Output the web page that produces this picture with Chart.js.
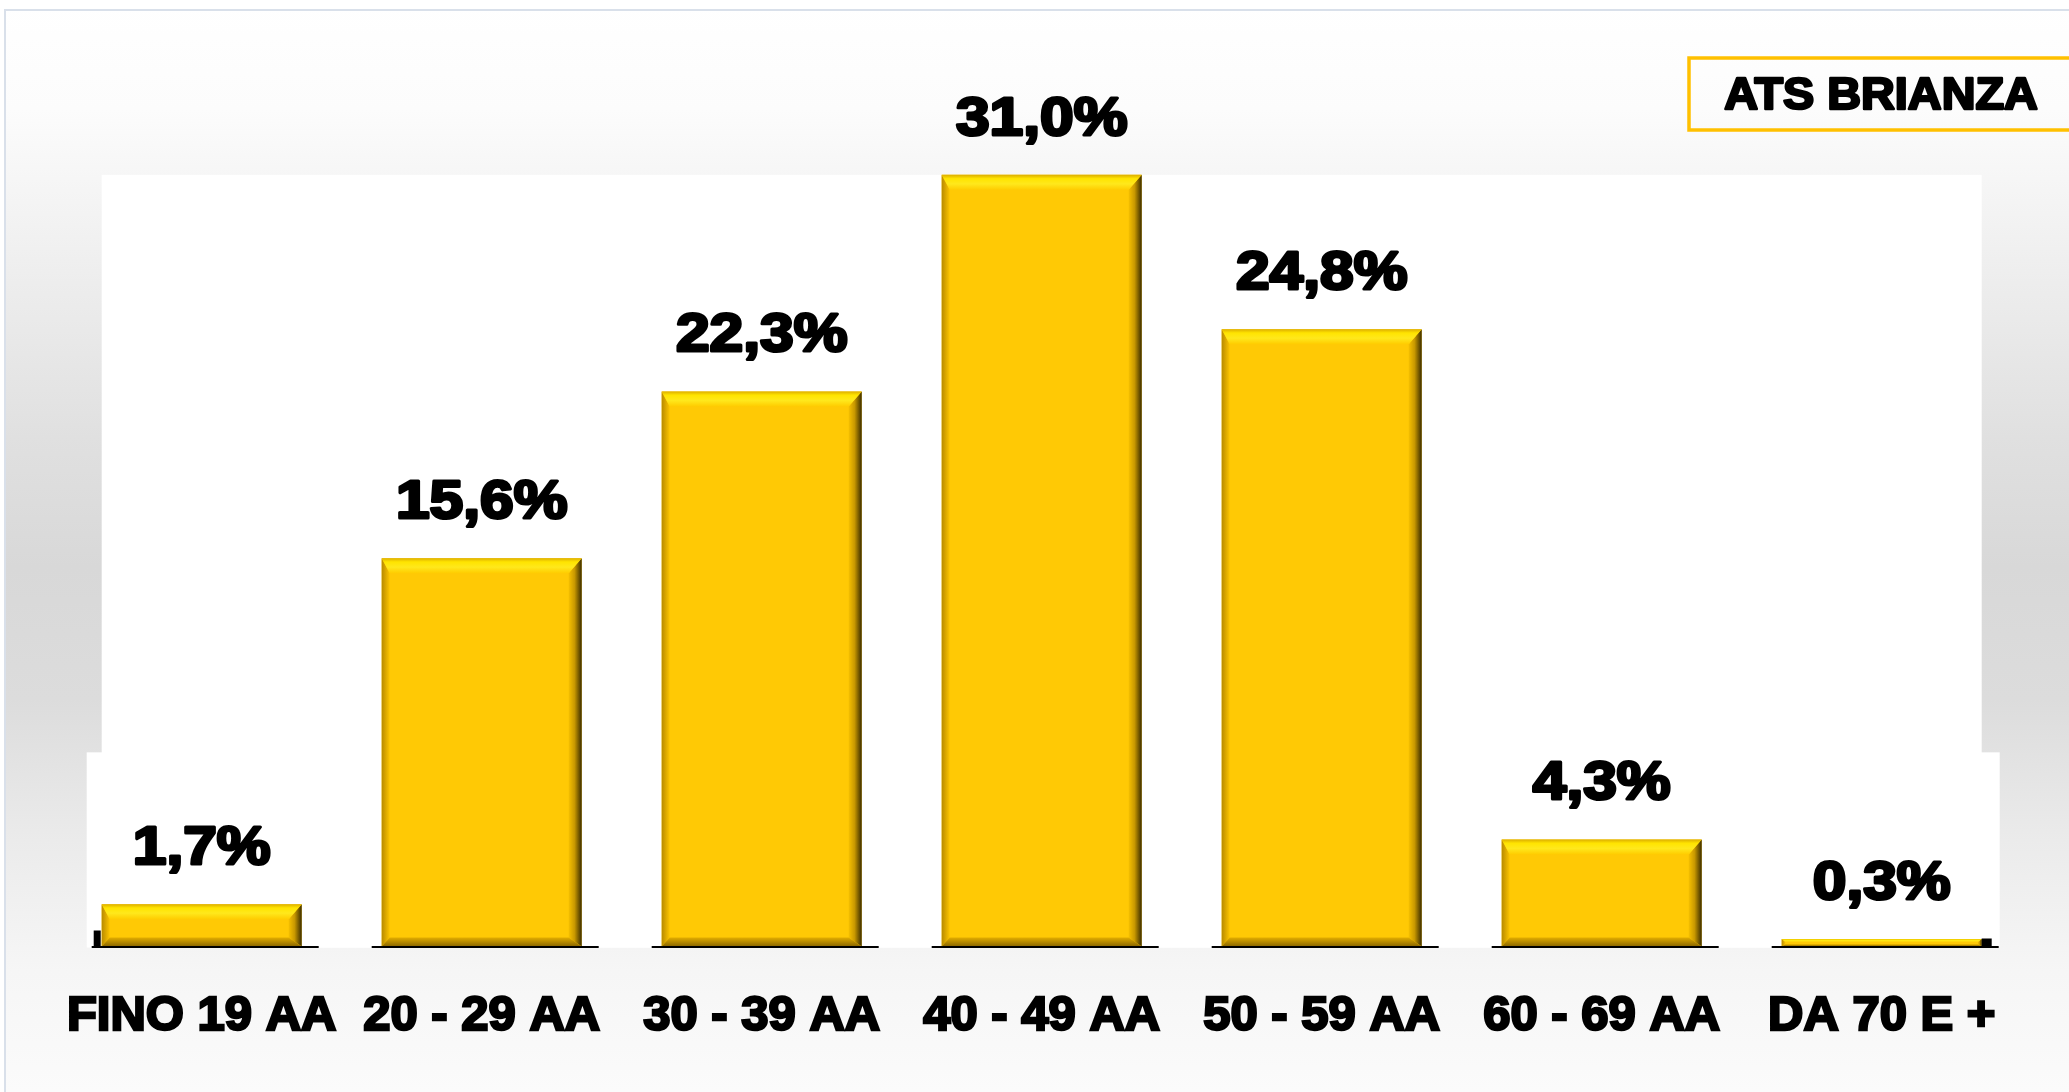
<!DOCTYPE html>
<html>
<head>
<meta charset="utf-8">
<script src="https://cdn.jsdelivr.net/npm/chart.js@4/dist/chart.umd.min.js"></script>
<style>
  html, body { margin: 0; padding: 0; background: #ffffff; }
  #wrap { width: 2069px; height: 1092px; }
</style>
</head>
<body>
<div id="wrap"><canvas id="c" width="2069" height="1092"></canvas></div>
<script>
// ---- DATA ----
const categories = ['FINO 19 AA', '20 - 29 AA', '30 - 39 AA', '40 - 49 AA', '50 - 59 AA', '60 - 69 AA', 'DA 70 E +'];
const values = [1.7, 15.6, 22.3, 31.0, 24.8, 4.3, 0.3];
const seriesName = 'ATS BRIANZA';
const yMin = 0;
const yMax = 34;

const FONT = "'Liberation Sans', Arial, sans-serif";

function fmt(v) { return v.toFixed(1).replace('.', ',') + '%'; }

// Background: page gradient, frame, white plot panels
const backgroundPlugin = {
  id: 'bgPanels',
  beforeDraw(chart) {
    const ctx = chart.ctx;
    const W = chart.width, H = chart.height;
    ctx.save();
    ctx.fillStyle = '#ffffff';
    ctx.fillRect(0, 0, W, H);
    const g = ctx.createLinearGradient(0, 0, 0, H);
    g.addColorStop(0.00, '#ffffff');
    g.addColorStop(0.10, '#fcfcfc');
    g.addColorStop(0.27, '#ececec');
    g.addColorStop(0.40, '#e0e0e0');
    g.addColorStop(0.52, '#d8d8d8');
    g.addColorStop(0.64, '#dcdcdc');
    g.addColorStop(0.77, '#ebebeb');
    g.addColorStop(0.89, '#f6f6f6');
    g.addColorStop(1.00, '#fbfbfb');
    ctx.fillStyle = g;
    ctx.fillRect(4, 9, W - 4, H - 9);
    // frame
    ctx.strokeStyle = '#d9e0ea';
    ctx.lineWidth = 2;
    ctx.beginPath();
    ctx.moveTo(5, H);
    ctx.lineTo(5, 10);
    ctx.lineTo(W, 10);
    ctx.stroke();

    // white plot panels derived from bars
    const meta = chart.getDatasetMeta(0);
    const ys = chart.scales.y;
    const first = meta.data[0], last = meta.data[meta.data.length - 1];
    if (first && last) {
      const base = ys.getPixelForValue(0);
      const topMax = ys.getPixelForValue(Math.max(...values));
      const l = first.x - first.width / 2;
      const r = last.x + last.width / 2;
      ctx.fillStyle = '#ffffff';
      ctx.fillRect(l, topMax, r - l, base - topMax + 1);
      const lowTop = ys.getPixelForValue(7.8);
      ctx.fillRect(l - 15, lowTop, (r + 18) - (l - 15), base - lowTop + 1);
    }
    ctx.restore();
  }
};

// Bevel effect, baseline segments and value labels
const barDecor = {
  id: 'barDecor',
  afterDatasetsDraw(chart) {
    const ctx = chart.ctx;
    const meta = chart.getDatasetMeta(0);
    const ys = chart.scales.y;
    const base = ys.getPixelForValue(0);
    ctx.save();
    meta.data.forEach((el, i) => {
      const L = el.x - el.width / 2, R = el.x + el.width / 2;
      const T = el.y, B = el.base;
      const h = B - T;
      const bt = Math.min(15, h * 0.4);
      const bb = Math.min(9, h * 0.3);
      const br = Math.min(13, h * 0.5);
      const bl = Math.min(8, h * 0.5);

      // left
      let gl = ctx.createLinearGradient(L, 0, L + bl, 0);
      gl.addColorStop(0, '#b88a00');
      gl.addColorStop(1, '#fcc400');
      ctx.fillStyle = gl;
      ctx.beginPath();
      ctx.moveTo(L, T); ctx.lineTo(L + bl, T + bt); ctx.lineTo(L + bl, B - bb); ctx.lineTo(L, B); ctx.closePath();
      ctx.fill();

      // right
      let gr = ctx.createLinearGradient(R - br, 0, R, 0);
      gr.addColorStop(0, '#f6c000');
      gr.addColorStop(0.45, '#c89800');
      gr.addColorStop(1, '#3a2c00');
      ctx.fillStyle = gr;
      ctx.beginPath();
      ctx.moveTo(R, T); ctx.lineTo(R, B); ctx.lineTo(R - br, B - bb); ctx.lineTo(R - br, T + bt); ctx.closePath();
      ctx.fill();

      // top
      let gt = ctx.createLinearGradient(0, T, 0, T + bt);
      gt.addColorStop(0, '#dcae00');
      gt.addColorStop(0.25, '#ffe400');
      gt.addColorStop(0.6, '#ffe81c');
      gt.addColorStop(1, '#ffcc00');
      ctx.fillStyle = gt;
      ctx.beginPath();
      ctx.moveTo(L, T); ctx.lineTo(R, T); ctx.lineTo(R - br, T + bt); ctx.lineTo(L + bl, T + bt); ctx.closePath();
      ctx.fill();

      // bottom
      let gb = ctx.createLinearGradient(0, B - bb, 0, B);
      gb.addColorStop(0, '#e2ad00');
      gb.addColorStop(1, '#8a6600');
      ctx.fillStyle = gb;
      ctx.beginPath();
      ctx.moveTo(L, B); ctx.lineTo(R, B); ctx.lineTo(R - br, B - bb); ctx.lineTo(L + bl, B - bb); ctx.closePath();
      ctx.fill();

      // baseline segment
      ctx.strokeStyle = '#000000';
      ctx.lineWidth = 2;
      ctx.beginPath();
      ctx.moveTo(el.x - 110, base + 0.5);
      ctx.lineTo(el.x + 117, base + 0.5);
      ctx.stroke();

      // value label
      ctx.save();
      ctx.fillStyle = '#000000';
      ctx.strokeStyle = '#000000';
      ctx.lineWidth = 3;
      ctx.lineJoin = 'round';
      ctx.font = 'bold 54px ' + FONT;
      ctx.textAlign = 'center';
      ctx.textBaseline = 'alphabetic';
      ctx.translate(el.x, T - 40);
      ctx.scale(1.12, 1);
      ctx.strokeText(fmt(values[i]), 0, 0);
      ctx.fillText(fmt(values[i]), 0, 0);
      ctx.restore();
    });
    // small end marks at the axis ends
    const f = meta.data[0], l = meta.data[meta.data.length - 1];
    if (f && l) {
      ctx.fillStyle = '#000000';
      ctx.fillRect(f.x - f.width / 2 - 8, base - 16, 7, 17);
      ctx.fillRect(l.x + l.width / 2, base - 8, 10, 9);
    }
    ctx.restore();
  },
  afterDraw(chart) {
    // series name box (top right)
    const ctx = chart.ctx;
    ctx.save();
    ctx.strokeStyle = '#ffc000';
    ctx.lineWidth = 3.5;
    ctx.strokeRect(1689, 58, 420, 72);
    ctx.fillStyle = '#000000';
    ctx.strokeStyle = '#000000';
    ctx.lineWidth = 2.5;
    ctx.lineJoin = 'round';
    ctx.font = 'bold 45px ' + FONT;
    ctx.textAlign = 'center';
    ctx.textBaseline = 'alphabetic';
    ctx.translate(1881, 109);
    ctx.scale(1.04, 1);
    ctx.strokeText(seriesName, 0, 0);
    ctx.fillText(seriesName, 0, 0);
    ctx.restore();
  }
};

new Chart(document.getElementById('c'), {
  type: 'bar',
  data: {
    labels: categories,
    datasets: [{
      label: seriesName,
      data: values,
      backgroundColor: '#ffc905',
      borderWidth: 0,
      barPercentage: 200 / 280,
      categoryPercentage: 1.0
    }]
  },
  options: {
    responsive: false,
    animation: false,
    devicePixelRatio: 1,
    layout: { padding: { left: 61.7, right: 47.3, top: 100.2, bottom: 0 } },
    plugins: {
      legend: { display: false },
      tooltip: { enabled: false },
      title: { display: false }
    },
    scales: {
      x: {
        type: 'category',
        grid: { display: false, drawTicks: false },
        border: { display: false },
        ticks: {
          color: '#000000',
          textStrokeColor: '#000000',
          textStrokeWidth: 2.5,
          font: { family: FONT, weight: 'bold', size: 49 },
          padding: 41,
          maxRotation: 0,
          autoSkip: false
        },
        afterFit(scale) { scale.height = 145.5; }
      },
      y: {
        display: false,
        min: yMin,
        max: yMax
      }
    }
  },
  plugins: [backgroundPlugin, barDecor]
});
</script>
</body>
</html>
